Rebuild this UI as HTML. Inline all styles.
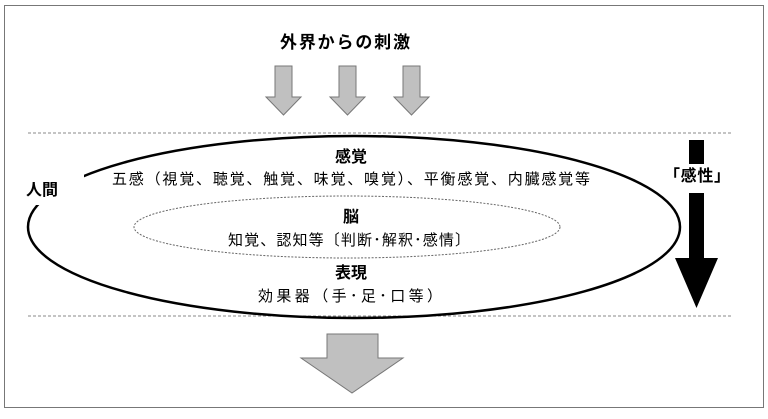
<!DOCTYPE html>
<html><head><meta charset="utf-8"><style>
html,body{margin:0;padding:0;background:#fff;}
svg text{font-family:"Liberation Sans","Noto Sans CJK JP",sans-serif;}
</style></head><body>
<svg width="768" height="414" viewBox="0 0 768 414" xmlns="http://www.w3.org/2000/svg">
<rect x="4.5" y="5.5" width="759" height="402" fill="#fff" stroke="#777" stroke-width="1"/>
<text x="345" y="48" font-size="17" font-weight="bold" text-anchor="middle" textLength="130">外界からの刺激</text>
<g fill="#c0c0c0" stroke="#777" stroke-width="1">
<path d="M275,66 h17 v31 h9 l-17.5,18 l-17.5,-18 h9 z"/>
<path d="M339,66 h17 v31 h9 l-17.5,18 l-17.5,-18 h9 z"/>
<path d="M403,66 h17 v31 h9 l-17.5,18 l-17.5,-18 h9 z"/>
<path d="M327,334 h51 v24 h25 l-51,35 l-51,-35 h26 z"/>
</g>
<line x1="28" y1="133" x2="733" y2="133" stroke="#888" stroke-dasharray="3,2"/>
<line x1="28" y1="316" x2="733" y2="316" stroke="#888" stroke-dasharray="3,2"/>
<ellipse cx="354" cy="227" rx="326" ry="91" fill="none" stroke="#000" stroke-width="2.5"/>
<rect x="22" y="168" width="62" height="37" fill="#fff"/>
<ellipse cx="347" cy="227" rx="213" ry="31" fill="none" stroke="#666" stroke-dasharray="2,1.5"/>
<text x="42" y="195" font-size="16" font-weight="bold" text-anchor="middle">人間</text>
<text x="351" y="162" font-size="16" font-weight="bold" text-anchor="middle">感覚</text>
<text x="351" y="184" font-size="15" text-anchor="middle" textLength="478">五感（視覚、聴覚、触覚、味覚、嗅覚）、平衡感覚、内臓感覚等</text>
<text x="351" y="222" font-size="16" font-weight="bold" text-anchor="middle">脳</text>
<text x="349" y="245" font-size="15" text-anchor="middle" textLength="242">知覚、認知等〔判断･解釈･感情〕</text>
<text x="351" y="278" font-size="16" font-weight="bold" text-anchor="middle">表現</text>
<text x="350" y="301" font-size="15" text-anchor="middle" textLength="184">効果器（手･足･口等）</text>
<text x="697" y="181" font-size="16" font-weight="bold" text-anchor="middle" textLength="66">「感性」</text>
<rect x="689" y="140" width="15" height="24" fill="#000"/>
<path d="M689,193 h15 v65 h14 l-21.5,50 l-21.5,-50 h14 z" fill="#000"/>
</svg>
</body></html>
